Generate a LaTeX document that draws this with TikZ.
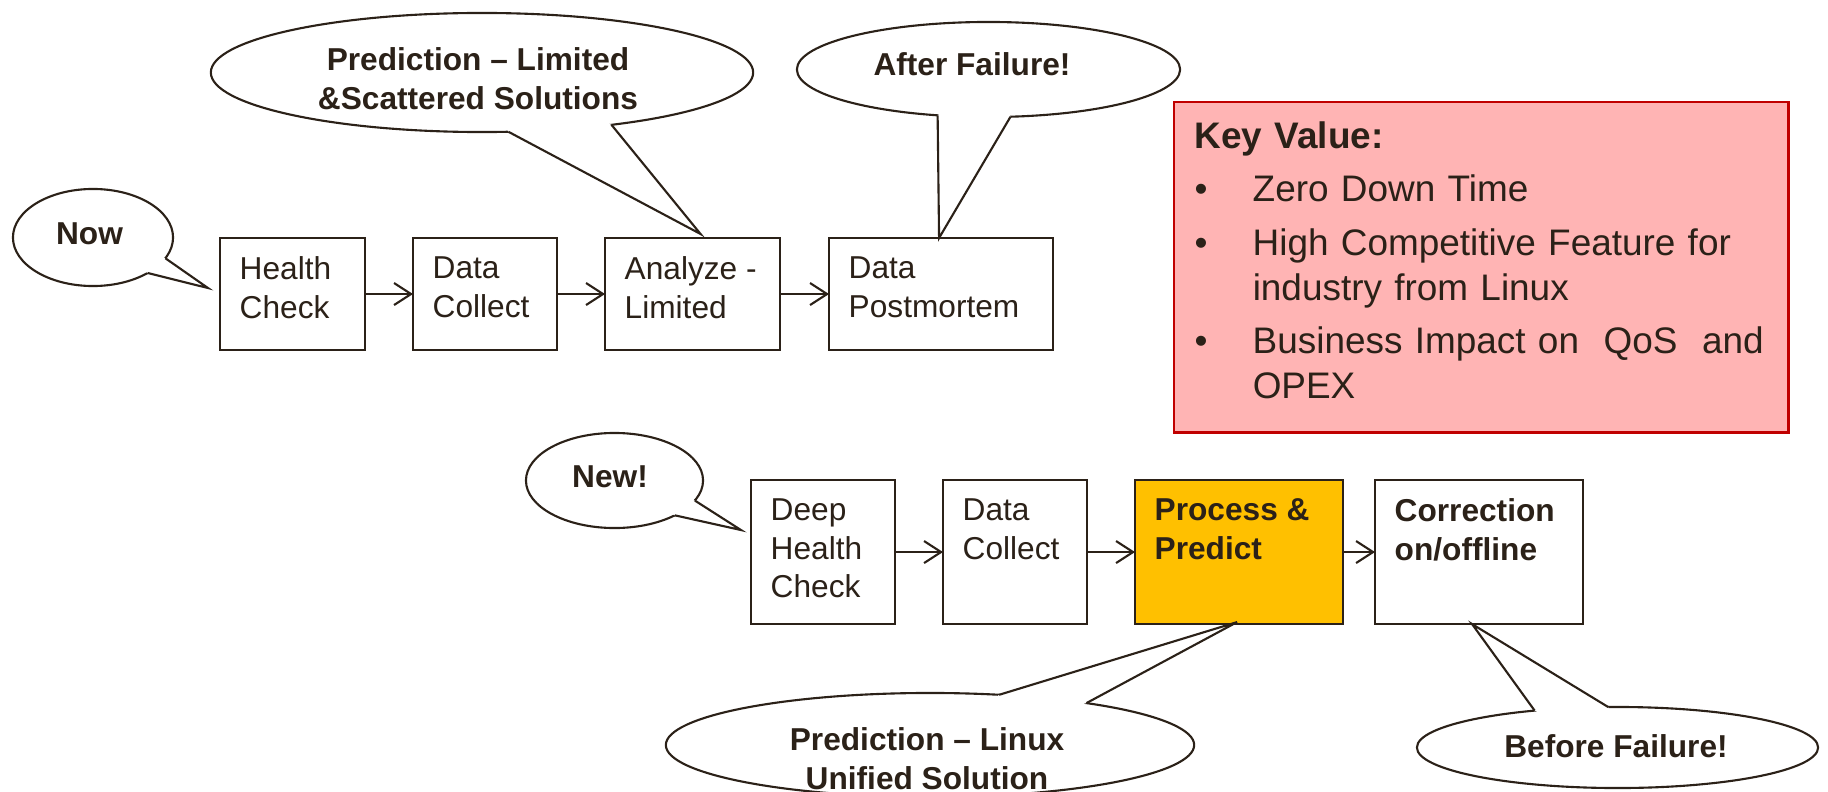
\documentclass[tikz,border=0pt]{standalone}
\usepackage{fontspec}
\setmainfont{Liberation Sans}
\usetikzlibrary{shapes.geometric,arrows.meta}

\definecolor{ink}{HTML}{2B2118}
\definecolor{keyfill}{HTML}{FFB4B4}
\definecolor{keyline}{HTML}{C00000}
\definecolor{hotfill}{HTML}{FFC000}

% one bullet line of the key value list
\newcommand\keyitem[1]{\par\hangindent=0.58cm\hangafter=1\noindent\makebox[0.58cm][l]{\textbullet}#1}

\tikzset{
  stage/.style={draw=ink, line width=0.6pt, fill=white, anchor=north west, inner sep=0pt, outer sep=0pt},
  hotstage/.style={stage, fill=hotfill},
  stagetext/.style={anchor=north west, inner sep=0pt, align=left, text=ink, font=\fontsize{9}{11}\selectfont},
  flow/.style={draw=ink, line width=0.6pt, -{Straight Barb[length=1.7mm,width=2.2mm]}},
  bubble/.style={ellipse, draw=ink, line width=0.6pt, fill=white, inner sep=0pt, outer sep=0pt},
  tail/.style={draw=ink, line width=0.6pt},
  bubbletext/.style={inner sep=0pt, align=center, text=ink, font=\fontsize{9}{11}\selectfont\bfseries},
  keybox/.style={draw=keyline, line width=0.7pt, fill=keyfill, anchor=north west, inner sep=0pt},
  keytext/.style={anchor=north west, inner sep=0pt, text width=5.8cm, align=left, text=ink, font=\fontsize{10.5}{12.8}\selectfont},
}

\begin{document}
\begin{tikzpicture}[x=0.01cm,y=-0.01cm]
\clip (0,0) rectangle (1828,791);
% current flow (top row)
\foreach \nm/\x/\w/\txt in {hc/220/1.45/{Health\\Check}, dc/413/1.44/{Data\\Collect}, an/605/1.75/{Analyze -\\Limited}, pm/829/2.24/{Data\\Postmortem}} {
  \node[stage, minimum width=\w cm, minimum height=1.12cm] (\nm) at (\x,238) {};
  \node[stagetext] (\nm-t) at ([shift={(19,18)}]\nm.north west) {\txt};
}
% new flow (bottom row)
\foreach \nm/\x/\w/\sty/\txt in {dh/751/1.44/stage/{Deep\\Health\\Check}, dd/943/1.44/stage/{Data\\Collect}, pp/1135/2.08/hotstage/{\textbf{Process \&}\\\textbf{Predict}}, cr/1375/2.08/stage/{\textbf{Correction}\\\textbf{on/offline}}} {
  \node[\sty, minimum width=\w cm, minimum height=1.44cm] (\nm) at (\x,480) {};
  \node[stagetext] (\nm-t) at ([shift={(19,18)}]\nm.north west) {\txt};
}
\foreach \a/\b in {hc/dc, dc/an, an/pm, dh/dd, dd/pp, pp/cr} \draw[flow] (\a) -- (\b);

% key value panel
\node[keybox, minimum width=6.14cm, minimum height=3.30cm] (key) at (1173,101) {};
\node[keytext] (keyt) at ([shift={(21,20)}]key.north west) {\setlength{\parskip}{2.4pt}\textbf{Key Value:}
  \keyitem{Zero Down Time}
  \keyitem{High Competitive Feature for\newline industry from Linux}
  \keyitem{Business Impact on\ \ QoS\ \ and\newline OPEX}\par};

% speech bubbles
\foreach \nm/\cx/\cy/\w/\h in {now/93/237.5/1.60/0.97, new/614.5/480.5/1.77/0.95, lim/482/72.5/5.42/1.19, aft/988.5/69.5/3.83/0.95, lin/930/745/5.28/1.04, bef/1617.5/747.5/4.01/0.81}
  \node[bubble, minimum width=\w cm, minimum height=\h cm] (\nm) at (\cx,\cy) {};
\coordinate (now-tip) at ([shift={(-12,-6)}]hc.west);
\coordinate (new-tip) at ([shift={(-10,-22)}]dh.west);
\coordinate (lim-tip) at ([shift={(8,-4)}]an.north);
\coordinate (aft-tip) at ([shift={(-2,0)}]pm.north);
\coordinate (lin-tip) at ([shift={(-2,-2)}]pp.south);
\coordinate (bef-tip) at ([shift={(-7,0)}]cr.south);
\foreach \nm/\aa/\ab in {now/344/327, new/346/330, lim/294/338, aft/222/295, lin/36/15, bef/156/103} {
  \fill[white] (\nm.\aa) -- (\nm-tip) -- (\nm.\ab) -- (\nm.center) -- cycle;
  \draw[tail] (\nm.\aa) -- (\nm-tip) -- (\nm.\ab);
}
\node[bubbletext, anchor=base] (now-text) at (89.5,245) {Now};
\node[bubbletext, anchor=base] (new-text) at (610,487) {New!};
\node[bubbletext, anchor=north] (lim-text) at (478,47) {Prediction -- Limited\\\&Scattered Solutions};
\node[bubbletext, anchor=base] (aft-text) at (972,76) {After Failure!};
\node[bubbletext, anchor=north] (lin-text) at (927,727) {Prediction -- Linux\\Unified Solution};
\node[bubbletext, anchor=base] (bef-text) at (1616,757) {Before Failure!};
\end{tikzpicture}
\end{document}
